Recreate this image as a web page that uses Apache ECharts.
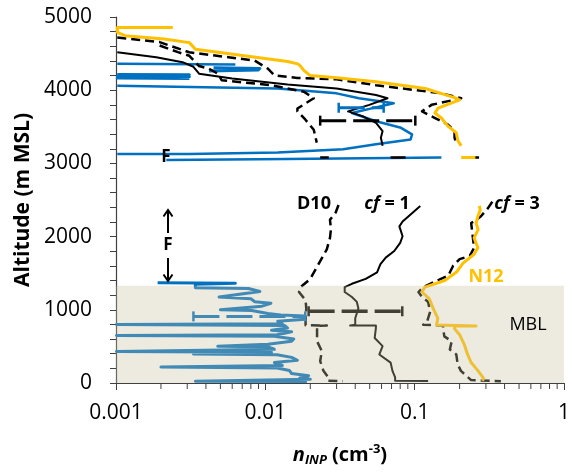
<!DOCTYPE html>
<html><head><meta charset="utf-8">
<script src="https://cdn.jsdelivr.net/npm/echarts@6/dist/echarts.min.js"></script>
<style>html,body{margin:0;padding:0;background:#fff}#c{width:573px;height:472px}</style>
</head><body><div id="c"></div>
<script>
// ---------- axis ticks ----------
const xTickLabels = ['0.001', '0.01', '0.1', '1'];
const xMinorTicks = [0.002,0.003,0.004,0.005,0.006,0.007,0.008,0.009,
                     0.02,0.03,0.04,0.05,0.06,0.07,0.08,0.09,
                     0.2,0.3,0.4,0.5,0.6,0.7,0.8,0.9];
const yTicks = [0, 1000, 2000, 3000, 4000, 5000];
// marine boundary layer box [xmin, ymin, xmax, ymax]
const mblBox = [[0.001, 0, 1, 1330]];

// ---------- profiles: [n_INP (cm-3), altitude (m)] ----------
const blueUpperA = [[0.00102,4361],[0.0063,4350]];
const blueUpperB = [[0.0045,4305],[0.0092,4298],[0.0047,4285],[0.0090,4275],[0.0042,4262]];
const blueUpperC = [[0.00102,4215],[0.0031,4210],[0.00102,4190],[0.0031,4185],[0.00102,4165],[0.0031,4160]];
const blueUpperMain = [[0.00102,4060],[0.0121,4024],[0.030,3957],[0.0424,3890],[0.0724,3822],[0.0524,3755],
  [0.038,3688],[0.0551,3576],[0.081,3486],[0.096,3396],[0.094,3328],[0.0551,3261],[0.0332,3194],
  [0.0121,3149],[0.0031,3130],[0.00102,3127]];
const blueUpperBase = [[0.00217,3046],[0.0141,3060],[0.151,3082]];
const blueLower = [[0.0019,1368],[0.0063,1362],[0.0034,1350],[0.0034,1300],[0.0077,1290],[0.0092,1250],
  [0.0090,1225],[0.0049,1175],[0.0049,1160],[0.0080,1150],[0.0085,1110],[0.0109,1090],[0.0095,1050],
  [0.0050,1000],[0.0081,990],[0.0104,950],[0.0127,930],[0.0185,915],[0.0185,870],[0.0121,845],
  [0.0130,810],[0.00101,800],[0.0135,785],[0.0141,750],[0.0110,720],[0.0150,700],[0.0120,660],
  [0.00101,650],[0.0115,640],[0.0155,600],[0.0150,570],[0.0104,530],[0.0048,502],[0.0104,495],
  [0.0115,460],[0.00101,432],[0.0110,420],[0.0033,395],[0.0120,385],[0.0150,350],[0.0164,310],
  [0.0115,280],[0.0130,240],[0.0020,218],[0.0120,205],[0.0145,170],[0.0150,130],[0.0195,100],
  [0.0170,70],[0.0200,50],[0.0034,25],[0.0190,20]];

const d10Upper = [[0.00196,4610],[0.0026,4520],[0.0031,4470],[0.0036,4330],[0.0042,4294],[0.0048,4226],
  [0.0051,4137],[0.0109,4069],[0.0181,3980],[0.0211,3890],[0.0164,3750],[0.0164,3711],[0.0185,3600],
  [0.0211,3460],[0.0221,3284]];
const d10Base = [[0.0233,3082],[0.0266,3082]];
const d10Lower = [[0.0309,2432],[0.0296,2330],[0.0271,2230],[0.0275,2100],[0.0271,1983],[0.0258,1826],
  [0.0227,1624],[0.0200,1422],[0.0172,1310],[0.0168,1243],[0.0186,1131],[0.0188,1019],[0.0186,884],
  [0.0186,790],[0.0258,785],[0.0222,780],[0.0222,704],[0.0222,570],[0.0239,435],[0.0233,300],
  [0.0245,166],[0.0264,77],[0.0264,30],[0.033,25]];

const cf1Upper = [[0.00102,4518],[0.00186,4451],[0.00279,4383],[0.0033,4320],[0.0036,4226],[0.0060,4160],
  [0.0141,4078],[0.0300,4024],[0.0551,3934],[0.0658,3890],[0.0497,3800],[0.0358,3711],[0.0450,3643],
  [0.0551,3553],[0.0610,3441],[0.0594,3351],[0.0610,3240]];
const cf1Base = [[0.069,3082],[0.087,3082]];
const cf1Lower = [[0.109,2419],[0.096,2319],[0.083,2207],[0.079,2140],[0.083,2005],[0.080,1915],
  [0.073,1803],[0.064,1713],[0.059,1624],[0.056,1512],[0.047,1422],[0.038,1355],[0.034,1310],
  [0.034,1243],[0.038,1175],[0.041,1108],[0.042,1019],[0.040,884],[0.040,795],[0.037,785],
  [0.055,785],[0.055,750],[0.054,615],[0.061,503],[0.058,390],[0.069,279],[0.071,166],[0.074,77],
  [0.074,30],[0.123,28]];

const cf3Upper = [[0.00102,4720],[0.00196,4657],[0.00309,4518],[0.00566,4451],[0.00847,4405],[0.0104,4294],
  [0.0115,4203],[0.0164,4168],[0.0300,4149],[0.0551,4069],[0.151,3957],[0.205,3890],[0.130,3800],
  [0.112,3711],[0.137,3620],[0.167,3530],[0.185,3441],[0.185,3351],[0.190,3261]];
const cf3Base = [[0.239,3082],[0.27,3082]];
const cf3Lower = [[0.331,2476],[0.309,2386],[0.277,2275],[0.239,2184],[0.244,2028],[0.250,1848],
  [0.234,1736],[0.200,1692],[0.181,1602],[0.168,1467],[0.137,1386],[0.114,1310],[0.106,1243],
  [0.112,1175],[0.123,1108],[0.127,973],[0.121,838],[0.114,795],[0.112,785],[0.155,785],[0.155,750],
  [0.158,637],[0.177,570],[0.172,458],[0.190,390],[0.194,256],[0.204,166],[0.222,98],[0.239,40],
  [0.378,25]];

const n12Upper = [[0.0024,4855],[0.00102,4855],[0.00102,4790],[0.00115,4745],[0.0021,4700],[0.0031,4650],
  [0.0034,4560],[0.0141,4392],[0.0165,4360],[0.0172,4330],[0.0181,4271],[0.0200,4200],[0.030,4170],
  [0.0551,4114],[0.1177,4024],[0.185,3899],[0.200,3867],[0.1437,3755],[0.1366,3688],[0.151,3620],
  [0.167,3509],[0.190,3419],[0.195,3307],[0.205,3240]];
const n12Base = [[0.205,3082],[0.255,3082]];
const n12Lower = [[0.271,2419],[0.275,2365],[0.265,2275],[0.258,2184],[0.266,2096],[0.250,1983],
  [0.265,1848],[0.250,1759],[0.211,1638],[0.190,1512],[0.159,1400],[0.117,1310],[0.112,1243],
  [0.125,1153],[0.133,1019],[0.143,884],[0.140,792],[0.137,780],[0.258,780],[0.185,778],[0.185,740],
  [0.200,660],[0.215,525],[0.226,390],[0.239,279],[0.266,166],[0.289,67],[0.285,30]];

// ---------- error bars ----------
const errBlackUpper = [[0.0233,3584],[0.101,3584]];
const errBlueUpper = [[0.031,3760],[0.062,3760]];
const errBlueMBL = [[0.0033,910],[0.0185,910]];
const errBlackMBL = [[0.0195,980],[0.0826,980]];

const BLUE = '#0070C0', BLACK = '#000000', ORANGE = '#FFC000';
const FONT = '"Open Sans", "Noto Sans", sans-serif';

function prof(data, color, width, dash) {
  return { type: 'line', data: data, symbol: 'none', showSymbol: false, silent: true,
    lineStyle: { color: color, width: width, type: dash || 'solid', cap: 'butt', join: 'round' },
    z: 2, animation: false };
}
function errBar(data, color, width) {
  return { type: 'line', data: data, symbol: 'rect', symbolSize: [2.5, 10], showSymbol: true,
    showAllSymbol: true, silent: true, itemStyle: { color: color },
    lineStyle: { color: color, width: width, type: [26, 7] }, z: 3, animation: false };
}
const DASH = [9, 5];

const series = [
  prof(blueUpperA, BLUE, 2.5), prof(blueUpperB, BLUE, 3), prof(blueUpperC, BLUE, 3),
  prof(blueUpperMain, BLUE, 2.5), prof(blueUpperBase, BLUE, 2.5), prof(blueLower, BLUE, 3),
  prof(d10Upper, BLACK, 2.5, DASH), prof(d10Base, BLACK, 2.5), prof(d10Lower, BLACK, 2.5, DASH),
  prof(cf1Upper, BLACK, 2), prof(cf1Base, BLACK, 2.5), prof(cf1Lower, BLACK, 2),
  prof(cf3Upper, BLACK, 2.5, DASH), prof(cf3Base, BLACK, 2.5), prof(cf3Lower, BLACK, 2.5, DASH),
  prof(n12Upper, ORANGE, 3), prof(n12Base, ORANGE, 3), prof(n12Lower, ORANGE, 3),
  errBar(errBlackUpper, BLACK, 3), errBar(errBlueUpper, BLUE, 3),
  errBar(errBlueMBL, BLUE, 3), errBar(errBlackMBL, BLACK, 3.5),
  { type: 'custom', data: mblBox, encode: { x: [0, 2], y: [1, 3] }, silent: true, z: 10,
    animation: false,
    renderItem: function (params, api) {
      const p0 = api.coord([api.value(0), api.value(1)]);
      const p1 = api.coord([api.value(2), api.value(3)]);
      return { type: 'rect', shape: { x: p0[0], y: p1[1], width: p1[0] - p0[0], height: p0[1] - p1[1] },
        style: { fill: 'rgba(200,190,160,0.33)' } };
    } },
  { type: 'custom', data: xMinorTicks.map(v => [v, 0]), clip: false, silent: true, z: 11,
    animation: false,
    renderItem: function (params, api) {
      const p = api.coord([api.value(0), api.value(1)]);
      return { type: 'line', shape: { x1: p[0], y1: p[1], x2: p[0], y2: p[1] + 6 },
        style: { stroke: '#404040', lineWidth: 1 } };
    } }
];

function txt(x, y, text, opts) {
  return Object.assign({ type: 'text', x: x, y: y, z: 100, silent: true,
    style: Object.assign({ text: text, fill: '#000', fontFamily: FONT, fontSize: 18, fontWeight: 'bold',
      align: 'center', verticalAlign: 'middle', textAlign: 'center', textVerticalAlign: 'middle' }, opts || {}) });
}
const cfRich = { i: { fontStyle: 'italic', fontWeight: 'bold', fontSize: 18, fontFamily: FONT, fill: '#000', color: '#000' } };

const chart = echarts.init(document.getElementById('c'), null, { renderer: 'canvas' });
chart.setOption({
  animation: false,
  backgroundColor: '#fff',
  grid: { left: 116, right: 2, top: 17, bottom: 83, containLabel: false },
  xAxis: {
    type: 'log', logBase: 10, min: 0.001, max: 1, splitNumber: 3,
    axisLine: { show: true, lineStyle: { color: '#404040', width: 1.2 } },
    axisTick: { show: true, length: 7, inside: false, lineStyle: { color: '#404040' } },
    splitLine: { show: false },
    axisLabel: { margin: 20, fontSize: 21, fontFamily: FONT, color: '#000',
      formatter: function (v) { const i = Math.round(Math.log10(v)) + 3; return xTickLabels[i] || ''; } },
    name: '{ni|n}{sub|INP}{b| (cm}{sup|-3}{b|)}',
    nameLocation: 'middle', nameGap: 60,
    nameTextStyle: { fontFamily: FONT, fontWeight: 'bold', fontSize: 20, color: '#000',
      rich: {
        ni: { fontFamily: FONT, fontWeight: 'bold', fontStyle: 'italic', fontSize: 20, lineHeight: 24, color: '#000' },
        sub: { fontFamily: FONT, fontWeight: 'bold', fontStyle: 'italic', fontSize: 13, lineHeight: 13, verticalAlign: 'bottom', color: '#000' },
        b: { fontFamily: FONT, fontWeight: 'bold', fontSize: 20, lineHeight: 24, color: '#000' },
        sup: { fontFamily: FONT, fontWeight: 'bold', fontSize: 13, lineHeight: 13, verticalAlign: 'top', color: '#000' }
      } }
  },
  yAxis: {
    type: 'value', min: 0, max: 5000, interval: 1000,
    axisLine: { show: true, lineStyle: { color: '#404040', width: 1.2 } },
    axisTick: { show: true, length: 6, inside: false, lineStyle: { color: '#404040' } },
    minorTick: { show: true, splitNumber: 5, length: 6, lineStyle: { color: '#404040' } },
    splitLine: { show: false }, minorSplitLine: { show: false },
    axisLabel: { margin: 24, fontSize: 21, fontFamily: FONT, color: '#000',
      formatter: function (v) { return yTicks.indexOf(v) >= 0 ? String(v) : ''; } },
    name: 'Altitude (m MSL)', nameLocation: 'middle', nameGap: 77,
    nameTextStyle: { fontFamily: FONT, fontWeight: 'bold', fontSize: 21, color: '#000' }
  },
  series: series,
  graphic: [
    txt(314, 204, 'D10'),
    txt(387, 204, '{i|cf} = 1', { rich: cfRich }),
    txt(517, 204, '{i|cf} = 3', { rich: cfRich }),
    txt(486, 277, 'N12', { fill: ORANGE }),
    txt(528, 325, 'MBL', { fontWeight: 'normal' }),
    txt(166, 157, 'F', { fontSize: 17 }),
    txt(168, 245, 'F', { fontSize: 17 }),
    { type: 'polyline', z: 100, silent: true, shape: { points: [[168, 233], [168, 210]] }, style: { stroke: '#000', lineWidth: 2, fill: null } },
    { type: 'polyline', z: 100, silent: true, shape: { points: [[163.5, 216.5], [168, 210], [172.5, 216.5]] }, style: { stroke: '#000', lineWidth: 2, fill: null } },
    { type: 'polyline', z: 100, silent: true, shape: { points: [[168, 258], [168, 281]] }, style: { stroke: '#000', lineWidth: 2, fill: null } },
    { type: 'polyline', z: 100, silent: true, shape: { points: [[163.5, 274.5], [168, 281], [172.5, 274.5]] }, style: { stroke: '#000', lineWidth: 2, fill: null } }
  ]
});
</script></body></html>
